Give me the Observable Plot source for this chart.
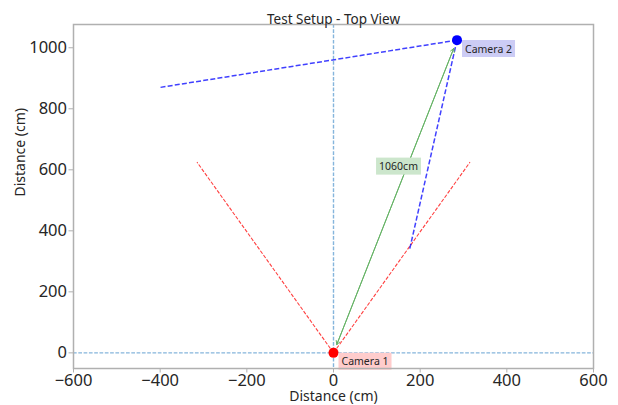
<!DOCTYPE html>
<html>
<head>
<meta charset="utf-8">
<script src="https://cdn.jsdelivr.net/npm/d3@7"></script>
<script src="https://cdn.jsdelivr.net/npm/@observablehq/plot@0.6"></script>
<style>
  html, body { margin: 0; padding: 0; background: #fff; }
  #chart { width: 618px; height: 405px; }
</style>
</head>
<body>
<div id="chart"></div>
<script>
// ---- data ----
const cameraNames = ["Camera 1", "Camera 2"];
const cameraX = [0, 285];
const cameraY = [0, 1025];
const cameraColors = ["red", "blue"];

// field-of-view edge end points (lines start at each camera)
const cam1FovX = [-315, 315];
const cam1FovY = [625, 625];
const cam2FovX = [-400, 175];
const cam2FovY = [870, 335];

const distanceText = ["1060cm"];
const distanceTextX = [150];
const distanceTextY = [610];

const crossX = [0];
const crossY = [0];

const xTicks = [-600, -400, -200, 0, 200, 400, 600];
const yTicks = [0, 200, 400, 600, 800, 1000];

const titleText = "Test Setup - Top View";
const xLabel = "Distance (cm)";
const yLabel = "Distance (cm)";

// ---- derived tables ----
const cameras = cameraNames.map((n, i) => ({name: n, x: cameraX[i], y: cameraY[i], color: cameraColors[i]}));
const cam1Fov = cam1FovX.map((x, i) => ({x1: cameraX[0], y1: cameraY[0], x2: x, y2: cam1FovY[i]}));
const cam2Fov = cam2FovX.map((x, i) => ({x1: cameraX[1], y1: cameraY[1], x2: x, y2: cam2FovY[i]}));
const distArrows = [
  {x1: cameraX[0], y1: cameraY[0], x2: cameraX[1], y2: cameraY[1]},
  {x1: cameraX[1], y1: cameraY[1], x2: cameraX[0], y2: cameraY[0]}
];
const distLabel = distanceText.map((t, i) => ({t, x: distanceTextX[i], y: distanceTextY[i]}));

const font = "'Noto Sans', 'Open Sans', sans-serif";
const fmt = d => String(d).replace("-", "\u2212");
const crossColor = "#85b5dc";

const chart = Plot.plot({
  width: 618,
  height: 405,
  marginLeft: 73,
  marginRight: 25,
  marginTop: 24,
  marginBottom: 37,
  style: {fontFamily: font, background: "#fff", color: "#262626"},
  x: {domain: [-600, 600], ticks: xTicks, tickFormat: fmt},
  y: {domain: [-51.25, 1076.25], ticks: yTicks, tickFormat: fmt},
  marks: [
    Plot.ruleX(crossX, {stroke: crossColor, strokeWidth: 1.4, strokeDasharray: "3.7,1.6"}),
    Plot.ruleY(crossY, {stroke: crossColor, strokeWidth: 1.4, strokeDasharray: "3.7,1.6"}),
    Plot.link(cam1Fov, {x1: "x1", y1: "y1", x2: "x2", y2: "y2", stroke: "red", strokeOpacity: 0.75, strokeWidth: 1.1, strokeDasharray: "3.7,1.6"}),
    Plot.link(cam2Fov, {x1: "x1", y1: "y1", x2: "x2", y2: "y2", stroke: "blue", strokeOpacity: 0.75, strokeWidth: 1.5, strokeDasharray: "5,2.2"}),
    Plot.arrow(distArrows, {x1: "x1", y1: "y1", x2: "x2", y2: "y2", stroke: "#66b366", strokeWidth: 1, headLength: 6, insetEnd: 9, insetStart: 9}),
    Plot.dot(cameras, {x: "x", y: "y", r: 5, fill: "color", stroke: null}),
    Plot.text(cameras, {x: "x", y: "y", text: "name", textAnchor: "start", dx: 8, dy: 9, fontSize: 10.5, fill: "#262626"}),
    Plot.text(distLabel, {x: "x", y: "y", text: "t", fontSize: 10.5, fill: "#262626"}),
    Plot.frame({stroke: "#b0b0b0", strokeWidth: 1.5}),
    Plot.axisX({ticks: xTicks, tickFormat: fmt, tickSize: 4.5, tickPadding: 1.5, fontSize: 16.5, label: null, stroke: "#b0b0b0"}),
    Plot.axisY({ticks: yTicks, tickFormat: fmt, tickSize: 4.5, tickPadding: 2, fontSize: 16.5, label: null, stroke: "#b0b0b0"}),
    Plot.text([titleText], {frameAnchor: "top", dy: -10, fontSize: 13.5, fill: "#262626"}),
    Plot.text([xLabel], {frameAnchor: "bottom", dy: 32.5, fontSize: 14, fill: "#262626"}),
    Plot.text([yLabel], {frameAnchor: "left", dx: -53, rotate: -90, fontSize: 14, fill: "#262626"})
  ]
});

document.getElementById("chart").appendChild(chart);

// tick label colour
chart.querySelectorAll('g[aria-label="x-axis tick label"] text, g[aria-label="y-axis tick label"] text')
  .forEach(t => t.setAttribute("fill", "#262626"));

// background boxes behind annotation labels
const boxFill = {"Camera 1": "#ffcccc", "Camera 2": "#ccccf5", "1060cm": "#cce6cc"};
chart.querySelectorAll("text").forEach(t => {
  const key = t.textContent;
  if (!(key in boxFill)) return;
  const b = t.getBBox();
  const padX = 3, padY = 1.5;
  const r = document.createElementNS("http://www.w3.org/2000/svg", "rect");
  r.setAttribute("x", b.x - padX);
  r.setAttribute("y", b.y - padY);
  r.setAttribute("width", b.width + 2 * padX);
  r.setAttribute("height", b.height + 2 * padY);
  r.setAttribute("fill", boxFill[key]);
  const tr = t.getAttribute("transform");
  if (tr) r.setAttribute("transform", tr);
  t.parentNode.insertBefore(r, t);
});
</script>
</body>
</html>
